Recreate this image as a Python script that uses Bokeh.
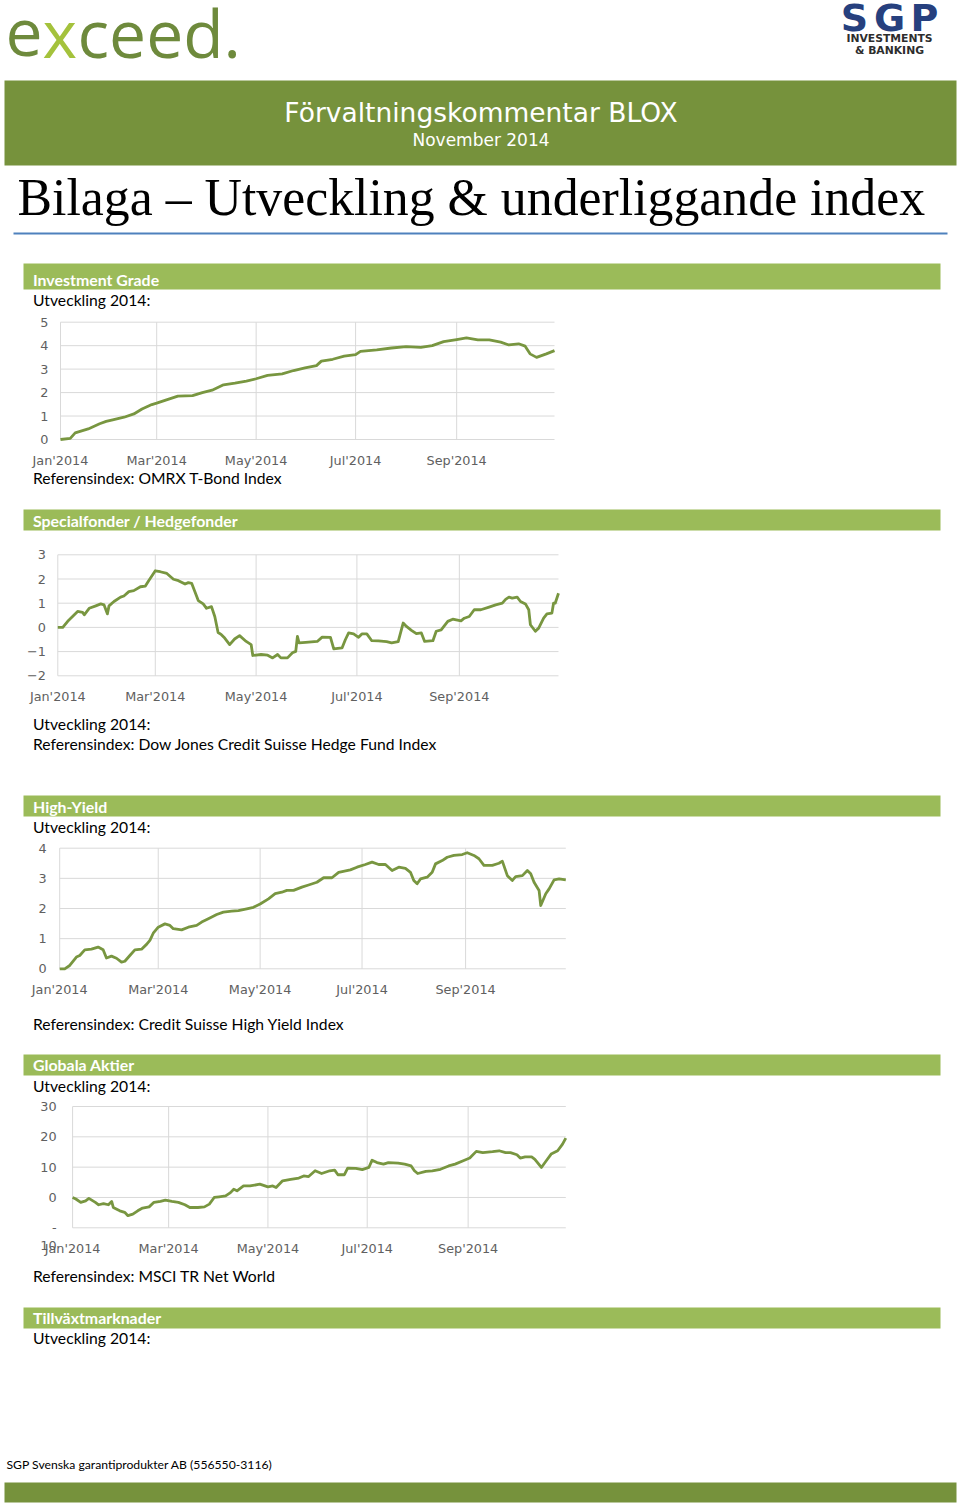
import pandas as pd
from bokeh.plotting import figure
from bokeh.models import Range1d, FixedTicker, DatetimeTickFormatter, LinearAxis, DatetimeAxis
from bokeh.core.properties import value
from bokeh.embed import file_html
from bokeh.resources import INLINE

# ---------------- data ----------------
month_ticks = ["2014-01-01", "2014-03-01", "2014-05-01", "2014-07-01", "2014-09-01"]
month_labels = ["Jan'2014", "Mar'2014", "May'2014", "Jul'2014", "Sep'2014"]
x_start = "2014-01-01"
x_end = "2014-10-31"

# Investment Grade (day of year 2014, % development)
ig_day = [0, 6, 9, 17, 24, 28, 32, 39, 45, 50, 56, 59, 65, 72, 81, 87, 93, 100, 107, 114,
          120, 127, 136, 143, 150, 157, 160, 167, 174, 181, 184, 194, 203, 212, 221, 228, 235, 243, 249, 256,
          263, 270, 275, 281, 285, 288, 292, 298, 303]
ig_val = [0.00, 0.05, 0.28, 0.45, 0.67, 0.77, 0.84, 0.95, 1.09, 1.30, 1.49, 1.55, 1.69, 1.85, 1.87, 2.00, 2.10, 2.33, 2.40, 2.49,
          2.59, 2.73, 2.80, 2.94, 3.05, 3.15, 3.34, 3.42, 3.55, 3.62, 3.76, 3.82, 3.90, 3.96, 3.93, 4.00, 4.17, 4.26, 4.33, 4.25,
          4.25, 4.15, 4.03, 4.08, 3.98, 3.65, 3.50, 3.65, 3.79]
ig_yticks = [0, 1, 2, 3, 4, 5]

# Specialfonder / Hedgefonder
hf_day = [0, 3, 6, 10, 12, 15, 16, 19, 23, 26, 28, 30, 31, 34, 38, 40, 43, 46, 50, 53,
          55, 59, 62, 66, 70, 73, 77, 79, 81, 85, 88, 90, 93, 95, 97, 99, 101, 104, 107, 110,
          114, 117, 118, 123, 127, 130, 133, 135, 139, 142, 144, 145, 146, 150, 157, 160, 165, 167, 172, 174,
          176, 179, 182, 184, 187, 190, 194, 199, 202, 206, 209, 211, 214, 217, 220, 222, 227, 229, 232, 236,
          239, 244, 246, 249, 252, 256, 261, 265, 269, 271, 273, 275, 278, 280, 283, 285, 286, 289, 291, 294,
          296, 299, 300, 301, 303]
hf_val = [0.00, 0.00, 0.25, 0.52, 0.66, 0.62, 0.52, 0.79, 0.89, 0.97, 0.93, 0.56, 0.89, 1.07, 1.25, 1.30, 1.48, 1.52, 1.68, 1.71,
          1.93, 2.34, 2.30, 2.23, 1.99, 1.93, 1.79, 1.85, 1.82, 1.11, 0.97, 0.79, 0.86, 0.45, -0.21, -0.30, -0.44, -0.71, -0.48, -0.34,
          -0.58, -0.71, -1.16, -1.12, -1.15, -1.26, -1.12, -1.26, -1.26, -1.05, -0.99, -0.37, -0.64, -0.62, -0.58, -0.40, -0.41, -0.89, -0.85, -0.51,
          -0.23, -0.27, -0.41, -0.27, -0.27, -0.55, -0.56, -0.59, -0.64, -0.59, 0.18, 0.04, -0.12, -0.26, -0.23, -0.58, -0.55, -0.16, -0.10, 0.25,
          0.34, 0.27, 0.38, 0.45, 0.73, 0.73, 0.84, 0.93, 1.00, 1.16, 1.25, 1.21, 1.25, 1.07, 0.97, 0.73, 0.11, -0.16, -0.03, 0.38,
          0.56, 0.59, 1.00, 1.00, 1.41]
hf_yticks = [-2, -1, 0, 1, 2, 3]

# High-Yield
hy_day = [0, 3, 6, 10, 12, 15, 19, 23, 26, 28, 31, 34, 37, 39, 42, 45, 49, 52, 54, 56,
          59, 63, 66, 68, 73, 77, 82, 85, 89, 94, 98, 103, 107, 112, 116, 120, 125, 129, 133, 136,
          140, 145, 149, 154, 158, 163, 167, 174, 178, 183, 187, 191, 195, 199, 203, 207, 210, 212, 214, 216,
          220, 223, 225, 229, 232, 236, 241, 244, 248, 251, 254, 259, 263, 265, 268, 271, 273, 277, 280, 282,
          284, 287, 288, 291, 293, 296, 299, 303]
hy_val = [0.00, 0.00, 0.11, 0.39, 0.44, 0.63, 0.65, 0.72, 0.63, 0.36, 0.42, 0.35, 0.22, 0.25, 0.44, 0.63, 0.65, 0.81, 0.94, 1.18,
          1.38, 1.49, 1.44, 1.33, 1.29, 1.38, 1.44, 1.55, 1.66, 1.80, 1.88, 1.91, 1.93, 1.99, 2.04, 2.15, 2.32, 2.49, 2.54, 2.60,
          2.60, 2.71, 2.78, 2.87, 3.02, 3.02, 3.20, 3.28, 3.37, 3.46, 3.54, 3.46, 3.46, 3.26, 3.37, 3.33, 3.20, 2.93, 2.82, 2.98,
          3.04, 3.20, 3.48, 3.59, 3.70, 3.76, 3.79, 3.85, 3.76, 3.65, 3.43, 3.43, 3.50, 3.57, 3.09, 2.93, 3.06, 3.09, 3.26, 3.15,
          2.87, 2.60, 2.10, 2.49, 2.65, 2.95, 2.98, 2.95]
hy_yticks = [0, 1, 2, 3, 4]

# Globala Aktier
ga_day = [0, 2, 5, 8, 10, 14, 16, 19, 22, 24, 25, 29, 32, 34, 37, 40, 43, 47, 50, 54,
          57, 61, 65, 69, 72, 77, 81, 84, 87, 90, 94, 97, 99, 101, 105, 109, 115, 120, 123, 125,
          129, 134, 139, 142, 145, 149, 153, 158, 161, 163, 167, 169, 174, 178, 182, 184, 187, 191, 194, 200,
          204, 208, 210, 212, 217, 221, 226, 231, 235, 240, 244, 248, 252, 258, 262, 266, 269, 273, 275, 278,
          282, 284, 288, 291, 294, 298, 301, 303]
ga_val = [0.0, -0.5, -1.6, -1.1, -0.3, -1.6, -2.4, -2.0, -2.4, -1.3, -3.3, -4.4, -4.9, -6.0, -5.5, -4.4, -3.5, -3.1, -1.6, -1.3,
          -0.9, -1.3, -1.6, -2.4, -3.3, -3.3, -3.1, -2.2, 0.0, 0.2, 0.5, 1.6, 2.7, 2.2, 3.8, 3.8, 4.4, 3.5, 3.8, 3.3,
          5.5, 6.0, 6.4, 7.1, 6.9, 8.8, 7.9, 8.8, 9.0, 7.5, 7.5, 9.7, 9.6, 9.2, 9.9, 12.3, 11.5, 11.0, 11.5, 11.3,
          11.0, 10.4, 8.8, 7.9, 8.6, 8.8, 9.3, 10.4, 11.0, 12.1, 13.0, 15.2, 14.8, 15.1, 15.4, 14.8, 14.8, 14.1, 13.0, 13.4,
          13.4, 12.6, 9.9, 12.1, 14.3, 15.4, 17.6, 19.6]
ga_yticks = [-10, 0, 10, 20, 30]
ga_ylabels = {-10: " \n-\n10"}

assert len(ig_day) == len(ig_val) and len(hf_day) == len(hf_val)
assert len(hy_day) == len(hy_val) and len(ga_day) == len(ga_val)

# ---------------- page figure (page pixel coordinates) ----------------
W, H = 960, 1509
GREEN_DARK = "#76923C"
GREEN_LIGHT = "#9BBB59"
LINE = "#789640"
GRID = "#d9d9d9"
BODY = "Lato"

p = figure(width=W, height=H, x_range=Range1d(0, W), y_range=Range1d(H, 0),
           output_backend="svg", toolbar_location=None, min_border=0,
           x_axis_location=None, y_axis_location=None)
p.grid.visible = False
p.outline_line_color = None


def txt(x, y, s, size, font=BODY, color="#000000", style="normal", align="left"):
    p.text(x=[x], y=[y], text=[s], text_font=value(font), text_font_size=size,
           text_color=color, text_font_style=style, text_align=align,
           text_baseline="middle")


def bar(x0, x1, y0, y1, color):
    p.quad(left=[x0], right=[x1], top=[y0], bottom=[y1], fill_color=color, line_color=None)


tick_ms = [pd.Timestamp(t).value / 1e6 for t in month_ticks]
t0 = pd.Timestamp(x_start).value / 1e6
t1 = pd.Timestamp(x_end).value / 1e6
xr, yr = {}, {}
fmt = "%b'%Y"


def add_chart(name, days, vals, yticks, px_left, px_right, py_hi, py_lo, y_stand, x_stand, y_over=None):
    # chart box in page pixels -> ranges for this chart's own scales
    sx = (t1 - t0) / (px_right - px_left)
    xr[name] = Range1d(t0 - px_left * sx, t1 + (W - px_right) * sx)
    y_lo, y_hi = min(yticks), max(yticks)
    sy = (y_hi - y_lo) / (py_lo - py_hi)
    yr[name] = Range1d(y_lo - (H - py_lo) * sy, y_hi + py_hi * sy)
    kw = dict(x_range_name=name, y_range_name=name)
    n = len(yticks)
    p.segment(x0=[t0] * n, x1=[t1] * n, y0=yticks, y1=yticks, line_color=GRID, line_width=1, **kw)
    m = len(tick_ms)
    p.segment(x0=tick_ms, x1=tick_ms, y0=[y_lo] * m, y1=[y_hi] * m, line_color=GRID, line_width=1, **kw)
    dates = pd.Timestamp(x_start) + pd.to_timedelta(days, unit="D")
    p.line(x=dates, y=vals, line_color=LINE, line_width=2.8, line_join="round", **kw)
    yax = LinearAxis(fixed_location=t0, ticker=FixedTicker(ticks=yticks), **kw)
    xax = DatetimeAxis(fixed_location=y_lo, ticker=FixedTicker(ticks=tick_ms), **kw)
    xax.formatter = DatetimeTickFormatter(milliseconds=fmt, seconds=fmt, minsec=fmt, minutes=fmt,
                                          hourmin=fmt, hours=fmt, days=fmt, months=fmt, years=fmt)
    xax.major_label_overrides = dict(zip(tick_ms, month_labels))
    for ax in (xax, yax):
        ax.axis_line_color = None
        ax.major_tick_line_color = None
        ax.minor_tick_line_color = None
        ax.major_tick_out = 0
        ax.major_tick_in = 0
        ax.major_label_text_font = "DejaVu Sans"
        ax.major_label_text_font_size = "12.8px"
        ax.major_label_text_color = "#606060"
    yax.major_label_standoff = y_stand
    xax.major_label_standoff = x_stand
    if y_over:
        yax.major_label_overrides = y_over
    p.add_layout(yax, "left")
    p.add_layout(xax, "below")


# ---------------- header ----------------
txt(5, 31.5, "e", "66px", font="Open Sans", color="#6E8A3C")
txt(42, 31.5, "x", "66px", font="Open Sans", color="#A4C23C")
txt(77, 31.5, "ceed.", "66px", font="Open Sans", color="#6E8A3C")
for cx, ch in zip([854, 889, 924], ["S", "G", "P"]):
    txt(cx, 17, ch, "38px", font="DejaVu Sans", color="#26407E", style="bold", align="center")
txt(889, 38.3, "INVESTMENTS", "10.8px", font="DejaVu Sans", color="#2D2D2D", style="bold", align="center")
txt(889, 50, "& BANKING", "10.8px", font="DejaVu Sans", color="#2D2D2D", style="bold", align="center")
bar(4, 956, 80, 165, GREEN_DARK)
txt(480.5, 112, "Förvaltningskommentar BLOX", "26.5px", font="DejaVu Sans", color="#FFFFFF", align="center")
txt(480.5, 139, "November 2014", "17px", font="DejaVu Sans", color="#FFFFFF", align="center")
txt(17, 197, "Bilaga – Utveckling & underliggande index", "51.8px", font="Liberation Serif")
p.segment(x0=[13], y0=[233], x1=[947], y1=[233], line_color="#4F81BD", line_width=2)

# ---------------- sections ----------------
bar(23, 940, 263, 289, GREEN_LIGHT)
txt(32.5, 278.5, "Investment Grade", "15.9px", color="#FFFFFF", style="bold")
txt(32.5, 299.5, "Utveckling 2014:", "15.7px")
add_chart("ig", ig_day, ig_val, ig_yticks, 60, 554, 321.7, 439, 12, 13)
txt(32.5, 477, "Referensindex: OMRX T-Bond Index", "15.7px")

bar(23, 940, 509, 530, GREEN_LIGHT)
txt(32.5, 519.5, "Specialfonder / Hedgefonder", "15.9px", color="#FFFFFF", style="bold")
add_chart("hf", hf_day, hf_val, hf_yticks, 57.3, 558, 554.3, 675.3, 12, 13)
txt(32.5, 723, "Utveckling 2014:", "15.7px")
txt(32.5, 743.5, "Referensindex: Dow Jones Credit Suisse Hedge Fund Index", "15.7px")

bar(23, 940, 795, 816, GREEN_LIGHT)
txt(32.5, 806, "High-Yield", "15.9px", color="#FFFFFF", style="bold")
txt(32.5, 826.5, "Utveckling 2014:", "15.7px")
add_chart("hy", hy_day, hy_val, hy_yticks, 59.2, 565.3, 847.7, 968.3, 13, 13)
txt(32.5, 1023, "Referensindex: Credit Suisse High Yield Index", "15.7px")

bar(23, 940, 1054, 1075, GREEN_LIGHT)
txt(32.5, 1064, "Globala Aktier", "15.9px", color="#FFFFFF", style="bold")
txt(32.5, 1085.5, "Utveckling 2014:", "15.7px")
add_chart("ga", ga_day, ga_val, ga_yticks, 72.1, 565.3, 1106, 1227.3, 16, 13, ga_ylabels)
txt(32.5, 1275.5, "Referensindex: MSCI TR Net World", "15.7px")

bar(23, 940, 1307, 1328, GREEN_LIGHT)
txt(32.5, 1316.5, "Tillväxtmarknader", "15.9px", color="#FFFFFF", style="bold")
txt(32.5, 1337, "Utveckling 2014:", "15.7px")

txt(6, 1464, "SGP Svenska garantiprodukter AB (556550-3116)", "12.2px")
bar(4, 956, 1482, 1502, GREEN_DARK)

p.extra_x_ranges = xr
p.extra_y_ranges = yr

open("out.html", "w").write(file_html(p, INLINE))
